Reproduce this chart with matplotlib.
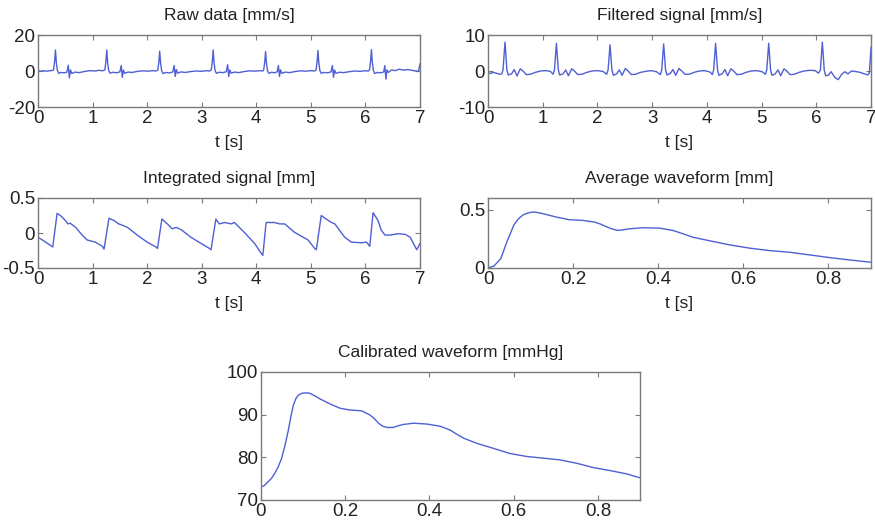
import matplotlib
matplotlib.use("Agg")
import matplotlib.pyplot as plt
from matplotlib.ticker import FixedLocator, FixedFormatter

# ---------------- data ----------------
raw_t = [0.00, 0.05, 0.10, 0.15, 0.20, 0.26, 0.285, 0.305, 0.32, 0.335, 0.355, 0.38, 0.42, 0.48, 0.53, 0.555, 0.575, 0.595, 0.62, 0.68, 0.75, 0.85, 0.95, 1.05, 1.12, 1.18,
         1.225, 1.245, 1.26, 1.275, 1.295, 1.32, 1.37, 1.44, 1.50, 1.525, 1.545, 1.565, 1.59, 1.65, 1.73, 1.82, 1.92, 2.02, 2.10, 2.16,
         2.195, 2.215, 2.23, 2.245, 2.265, 2.29, 2.34, 2.41, 2.47, 2.495, 2.515, 2.535, 2.56, 2.62, 2.70, 2.80, 2.90, 3.00, 3.08, 3.14,
         3.175, 3.195, 3.21, 3.225, 3.245, 3.27, 3.32, 3.39, 3.45, 3.475, 3.495, 3.515, 3.54, 3.60, 3.68, 3.78, 3.88, 3.98, 4.06, 4.12,
         4.135, 4.155, 4.17, 4.185, 4.205, 4.23, 4.28, 4.34, 4.385, 4.405, 4.425, 4.445, 4.47, 4.53, 4.61, 4.71, 4.81, 4.91, 5.00, 5.07,
         5.095, 5.115, 5.13, 5.145, 5.165, 5.19, 5.24, 5.31, 5.37, 5.395, 5.415, 5.435, 5.46, 5.52, 5.60, 5.70, 5.80, 5.90, 5.98, 6.05,
         6.075, 6.095, 6.11, 6.125, 6.145, 6.17, 6.22, 6.28, 6.335, 6.355, 6.375, 6.395, 6.42, 6.48, 6.55, 6.62, 6.70, 6.78, 6.86, 6.93, 6.97, 7.00]
raw_v = [0.3, -0.2, 0.2, -0.1, 0.1, 0.3, 0.6, 5.5, 11.7, 5.0, 0.3, -1.3, -0.8, -1.0, -0.6, 3.2, -3.8, 0.6, -1.4, -0.6, -0.9, -0.3, 0.2, 0.0, 0.4, 0.1,
         0.6, 5.5, 11.7, 5.0, 0.3, -1.2, -0.7, -1.0, -0.5, 3.0, -3.5, 0.5, -1.3, -0.6, -0.8, -0.2, 0.1, -0.1, 0.2, 0.0,
         0.5, 5.0, 11.0, 4.8, 0.3, -1.4, -0.8, -1.1, -0.5, 3.0, -3.0, 0.8, -1.2, -0.5, -0.8, -0.3, 0.0, -0.2, 0.2, 0.0,
         0.6, 5.5, 11.7, 5.0, 0.2, -1.3, -0.7, -0.9, -0.4, 3.5, -3.0, 0.6, -1.2, -0.6, -0.9, -0.3, 0.1, -0.1, 0.2, 0.0,
         0.5, 5.0, 10.8, 4.8, 0.2, -1.3, -0.7, -1.0, -0.4, 3.0, -3.0, 0.6, -1.3, -0.6, -0.9, -0.3, 0.1, -0.1, 0.2, 0.0,
         0.6, 5.3, 11.4, 5.0, 0.2, -1.3, -0.8, -1.0, -0.5, 3.0, -3.5, 0.5, -1.3, -0.7, -0.9, -0.4, 0.0, -0.2, 0.1, 0.0,
         0.6, 5.6, 11.9, 5.2, 0.3, -1.4, -0.8, -1.0, -0.5, 3.0, -4.5, 0.6, -0.8, 0.6, 0.2, 1.0, 0.5, 0.8, 0.3, 0.0, -0.3, 4.0]

filt_t = [0.00, 0.04, 0.09, 0.15, 0.21, 0.25, 0.275, 0.293, 0.31, 0.327, 0.345, 0.37, 0.43, 0.48, 0.53, 0.59, 0.64, 0.70, 0.78, 0.86, 0.96, 1.06, 1.14,
          1.19, 1.215, 1.233, 1.25, 1.267, 1.285, 1.31, 1.37, 1.42, 1.47, 1.53, 1.58, 1.64, 1.72, 1.80, 1.90, 2.00, 2.10,
          2.17, 2.195, 2.213, 2.23, 2.247, 2.265, 2.29, 2.35, 2.40, 2.45, 2.51, 2.56, 2.62, 2.70, 2.78, 2.88, 2.98, 3.08,
          3.15, 3.175, 3.193, 3.21, 3.227, 3.245, 3.27, 3.33, 3.38, 3.43, 3.49, 3.54, 3.60, 3.68, 3.76, 3.86, 3.96, 4.06,
          4.10, 4.125, 4.143, 4.16, 4.177, 4.195, 4.22, 4.28, 4.33, 4.38, 4.44, 4.49, 4.55, 4.63, 4.71, 4.81, 4.91, 5.01,
          5.07, 5.095, 5.113, 5.13, 5.147, 5.165, 5.19, 5.25, 5.30, 5.35, 5.41, 5.46, 5.52, 5.60, 5.68, 5.78, 5.88, 5.98, 6.04,
          6.075, 6.093, 6.11, 6.127, 6.145, 6.17, 6.22, 6.27, 6.34, 6.40, 6.46, 6.52, 6.58, 6.64, 6.70, 6.78, 6.86, 6.94, 6.97, 7.00]
filt_v = [-0.3, -0.7, -0.4, -0.6, -0.9, -0.8, 0.3, 4.5, 8.0, 4.5, 0.3, -1.1, -0.8, 0.4, -1.4, 0.6, 0.0, -1.0, -0.9, -0.4, 0.0, 0.1, -0.1,
          -0.9, 0.3, 4.3, 7.7, 4.3, 0.3, -1.1, -0.8, 0.3, -1.3, 0.6, 0.0, -1.0, -0.9, -0.4, 0.0, 0.1, -0.1,
          -0.9, 0.3, 4.0, 7.3, 4.0, 0.3, -1.2, -0.8, 0.3, -1.2, 0.7, 0.0, -1.0, -0.9, -0.4, -0.1, 0.1, -0.2,
          -1.0, 0.3, 4.2, 7.5, 4.2, 0.3, -1.1, -0.7, 0.4, -1.2, 0.7, 0.0, -0.9, -0.9, -0.4, 0.0, 0.1, -0.3,
          -1.0, 0.3, 4.3, 7.7, 4.3, 0.3, -1.2, -0.8, 0.4, -1.3, 0.6, 0.0, -1.0, -0.9, -0.4, 0.0, 0.1, -0.2,
          -0.9, 0.3, 4.3, 7.7, 4.3, 0.3, -1.2, -0.8, 0.3, -1.3, 0.6, 0.0, -1.0, -0.9, -0.4, 0.0, 0.2, 0.1, -0.6,
          0.3, 4.5, 8.0, 4.5, 0.3, -1.3, -1.2, -0.2, -1.8, -2.4, -1.0, -0.2, -0.8, 0.0, -0.1, -0.3, -0.7, -1.1, -0.6, 6.6]

int_t = [0.00, 0.12, 0.27, 0.35, 0.41, 0.50, 0.55, 0.59, 0.69, 0.81, 0.90, 1.05, 1.18, 1.21,
         1.30, 1.39, 1.48, 1.55, 1.64, 1.82, 2.00, 2.16, 2.19,
         2.27, 2.37, 2.46, 2.53, 2.62, 2.80, 2.99, 3.14, 3.17,
         3.26, 3.32, 3.42, 3.54, 3.60, 3.78, 3.97, 4.09, 4.12,
         4.18, 4.33, 4.43, 4.52, 4.70, 4.95, 5.07, 5.10,
         5.19, 5.28, 5.38, 5.44, 5.62, 5.74, 5.93, 6.02, 6.08,
         6.14, 6.23, 6.29, 6.36, 6.45, 6.60, 6.73, 6.82, 6.94, 7.00]
int_v = [-0.06, -0.12, -0.20, 0.28, 0.25, 0.18, 0.13, 0.14, 0.08, -0.03, -0.10, -0.13, -0.19, -0.23,
         0.21, 0.18, 0.13, 0.11, 0.08, -0.03, -0.13, -0.20, -0.22,
         0.20, 0.13, 0.06, 0.08, 0.05, -0.06, -0.15, -0.22, -0.24,
         0.20, 0.13, 0.15, 0.13, 0.15, 0.01, -0.15, -0.29, -0.32,
         0.15, 0.15, 0.13, 0.13, 0.01, -0.10, -0.22, -0.24,
         0.25, 0.20, 0.15, 0.13, -0.06, -0.13, -0.14, -0.13, -0.19,
         0.29, 0.18, 0.04, -0.03, -0.03, -0.01, -0.02, -0.06, -0.24, -0.15]

avg_t = [0.000, 0.014, 0.030, 0.045, 0.061, 0.070, 0.077, 0.085, 0.093, 0.100, 0.108, 0.120, 0.132, 0.160, 0.191, 0.222, 0.250, 0.264, 0.277, 0.291, 0.305,
         0.318, 0.332, 0.364, 0.403, 0.434, 0.458, 0.481, 0.529, 0.568, 0.615, 0.662, 0.709, 0.756, 0.803, 0.850, 0.900]
avg_v = [0.000, 0.017, 0.080, 0.230, 0.370, 0.415, 0.440, 0.460, 0.470, 0.477, 0.480, 0.473, 0.463, 0.437, 0.414, 0.408, 0.394, 0.377, 0.356, 0.335, 0.322,
         0.328, 0.336, 0.345, 0.342, 0.322, 0.294, 0.264, 0.227, 0.198, 0.170, 0.149, 0.135, 0.112, 0.089, 0.069, 0.049]

cal_t = [0.000, 0.008, 0.017, 0.025, 0.033, 0.041, 0.049, 0.057, 0.065, 0.071, 0.077, 0.083, 0.089, 0.097, 0.104, 0.110, 0.116, 0.128, 0.140, 0.164, 0.188, 0.211, 0.239, 0.259,
         0.269, 0.279, 0.289, 0.299, 0.314, 0.326, 0.338, 0.362, 0.394, 0.425, 0.449, 0.465, 0.481, 0.512, 0.552, 0.591, 0.631, 0.671, 0.710,
         0.750, 0.789, 0.829, 0.869, 0.900]
cal_v = [73.0, 73.4, 74.3, 75.1, 76.3, 77.8, 79.8, 82.8, 86.4, 89.6, 92.3, 93.8, 94.6, 95.0, 95.1, 95.1, 95.0, 94.4, 93.7, 92.5, 91.5, 91.1, 90.9, 89.9,
         89.1, 88.0, 87.3, 87.0, 87.0, 87.4, 87.7, 88.0, 87.8, 87.3, 86.4, 85.4, 84.5, 83.3, 82.1, 80.9, 80.2, 79.8, 79.4,
         78.6, 77.6, 76.9, 76.1, 75.2]

titles = ["Raw data [mm/s]", "Filtered signal [mm/s]", "Integrated signal [mm]",
          "Average waveform [mm]", "Calibrated waveform [mmHg]"]
t_ticks7 = [0, 1, 2, 3, 4, 5, 6, 7]
t_labels7 = ["0", "1", "2", "3", "4", "5", "6", "7"]
t_ticks09 = [0, 0.2, 0.4, 0.6, 0.8]
t_labels09 = ["0", "0.2", "0.4", "0.6", "0.8"]

# ---------------- style ----------------
plt.rcParams['font.family'] = ['Liberation Sans', 'DejaVu Sans']
plt.rcParams['axes.unicode_minus'] = False
FS_TITLE = 12.5
FS_TICK = 13.5
LINE = '#4f5fd4'
AX = '#7a7a7a'
TXT = '#222222'

fig = plt.figure(figsize=(8.75, 5.25), dpi=100)
W, H = 875.0, 525.0

def make_ax(x0, x1, y0, y1):
    return fig.add_axes([x0 / W, 1 - y1 / H, (x1 - x0) / W, (y1 - y0) / H])

def style(ax, title, xt, xl, xlim, yt, yl, ylim, xlabel=True):
    ax.set_xlim(*xlim)
    ax.set_ylim(*ylim)
    ax.xaxis.set_major_locator(FixedLocator(xt))
    ax.xaxis.set_major_formatter(FixedFormatter(xl))
    ax.yaxis.set_major_locator(FixedLocator(yt))
    ax.yaxis.set_major_formatter(FixedFormatter(yl))
    ax.tick_params(direction='in', length=3.5, width=0.8, color=AX,
                   top=True, right=True, labelsize=FS_TICK, labelcolor=TXT, pad=2)
    for s in ax.spines.values():
        s.set_color(AX)
        s.set_linewidth(1.0)
    ax.set_title(title, fontsize=FS_TITLE, color=TXT, pad=11)
    if xlabel:
        ax.set_xlabel("t [s]", fontsize=FS_TITLE, color=TXT, labelpad=6)

ax1 = make_ax(38, 420, 35, 107)
ax1.plot(raw_t, raw_v, color=LINE, lw=1.0)
style(ax1, titles[0], t_ticks7, t_labels7, (0, 7), [-20, 0, 20], ["-20", "0", "20"], (-20, 20))

ax2 = make_ax(488, 871, 35, 107)
ax2.plot(filt_t, filt_v, color=LINE, lw=1.0)
style(ax2, titles[1], t_ticks7, t_labels7, (0, 7), [-10, 0, 10], ["-10", "0", "10"], (-10, 10))

ax3 = make_ax(38, 420, 198, 268)
ax3.plot(int_t, int_v, color=LINE, lw=1.0)
style(ax3, titles[2], t_ticks7, t_labels7, (0, 7), [-0.5, 0, 0.5], ["-0.5", "0", "0.5"], (-0.5, 0.5))

ax4 = make_ax(488, 871, 198, 268)
ax4.plot(avg_t, avg_v, color=LINE, lw=1.0)
style(ax4, titles[3], t_ticks09, t_labels09, (0, 0.9), [0, 0.5], ["0", "0.5"], (0, 0.6))

ax5 = make_ax(261, 640, 372, 500)
ax5.plot(cal_t, cal_v, color=LINE, lw=1.0)
style(ax5, titles[4], t_ticks09, t_labels09, (0, 0.9), [70, 80, 90, 100], ["70", "80", "90", "100"], (70, 100),
      xlabel=False)

fig.savefig("out.png", dpi=100)
